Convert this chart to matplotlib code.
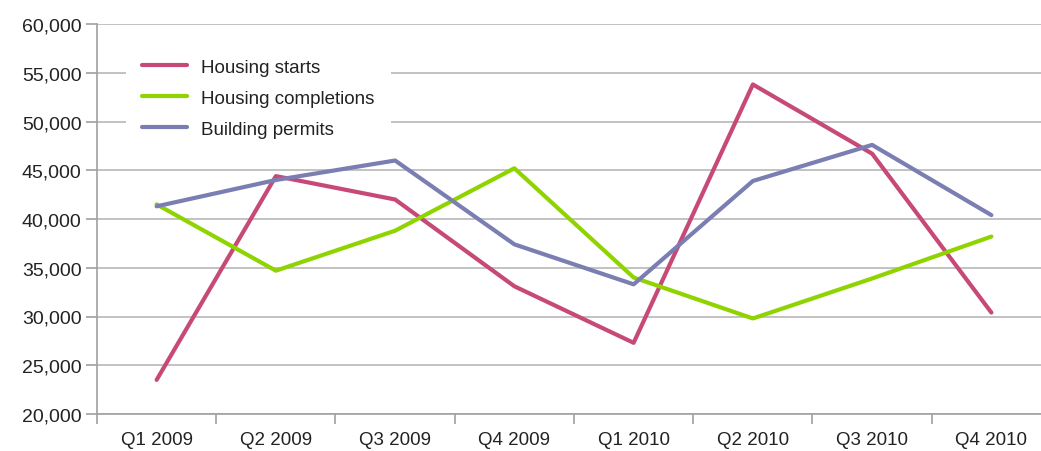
import matplotlib.pyplot as plt
import numpy as np
from matplotlib.ticker import FuncFormatter, FixedLocator

plt.rcParams['font.family'] = ['Liberation Sans Narrow', 'Liberation Sans', 'DejaVu Sans']

quarters = ['Q1 2009', 'Q2 2009', 'Q3 2009', 'Q4 2009',
            'Q1 2010', 'Q2 2010', 'Q3 2010', 'Q4 2010']
housing_starts = [23500, 44400, 42000, 33100, 27300, 53800, 46700, 30400]
housing_completions = [41500, 34700, 38800, 45200, 34000, 29800, 33900, 38200]
building_permits = [41300, 44000, 46000, 37400, 33300, 43900, 47600, 40400]

fig = plt.figure(figsize=(10.41, 4.52), dpi=100)
ax = fig.add_axes([97 / 1041, 1 - 415 / 452, 954 / 1041, 390 / 452])

x = np.arange(len(quarters))
ax.plot(x, housing_starts, color='#C64978', lw=3, label='Housing starts', solid_capstyle='round')
ax.plot(x, housing_completions, color='#8FD400', lw=3, label='Housing completions', solid_capstyle='round')
ax.plot(x, building_permits, color='#7A7EB2', lw=3, label='Building permits', solid_capstyle='round')

ax.set_xlim(-0.5, 7.5)
ax.set_ylim(20000, 60000)
ax.set_yticks(np.arange(20000, 60001, 5000))
ax.yaxis.set_major_formatter(FuncFormatter(lambda v, p: f'{int(v):,}'))
ax.grid(axis='y', color='#BDBDBD', lw=1.3)
ax.set_axisbelow(True)

# category labels centred, ticks on boundaries
ax.set_xticks(x)
ax.set_xticklabels(quarters)
ax.tick_params(axis='x', which='major', length=0, pad=12, labelsize=13.5, labelcolor='#222222')
ax.xaxis.set_minor_locator(FixedLocator(np.arange(-0.5, 8, 1)))
ax.tick_params(axis='x', which='minor', length=7, color='#A0A0A0', width=1.2)
ax.tick_params(axis='y', length=8, color='#A0A0A0', width=1.2, labelsize=14,
               labelcolor='#222222', pad=3)

for s in ['top', 'right']:
    ax.spines[s].set_visible(False)
for s in ['left', 'bottom']:
    ax.spines[s].set_color('#A0A0A0')
    ax.spines[s].set_linewidth(1.2)

leg = ax.legend(loc='upper left', bbox_to_anchor=(0.03, 0.955), frameon=True,
                fontsize=13.5, handlelength=2.4, handletextpad=0.7,
                labelspacing=0.75, borderpad=0.9, borderaxespad=0)
leg.get_frame().set_facecolor('white')
leg.get_frame().set_edgecolor('none')
leg.get_frame().set_alpha(1)
for t in leg.get_texts():
    t.set_color('#222222')

plt.savefig('out.png', dpi=100)
